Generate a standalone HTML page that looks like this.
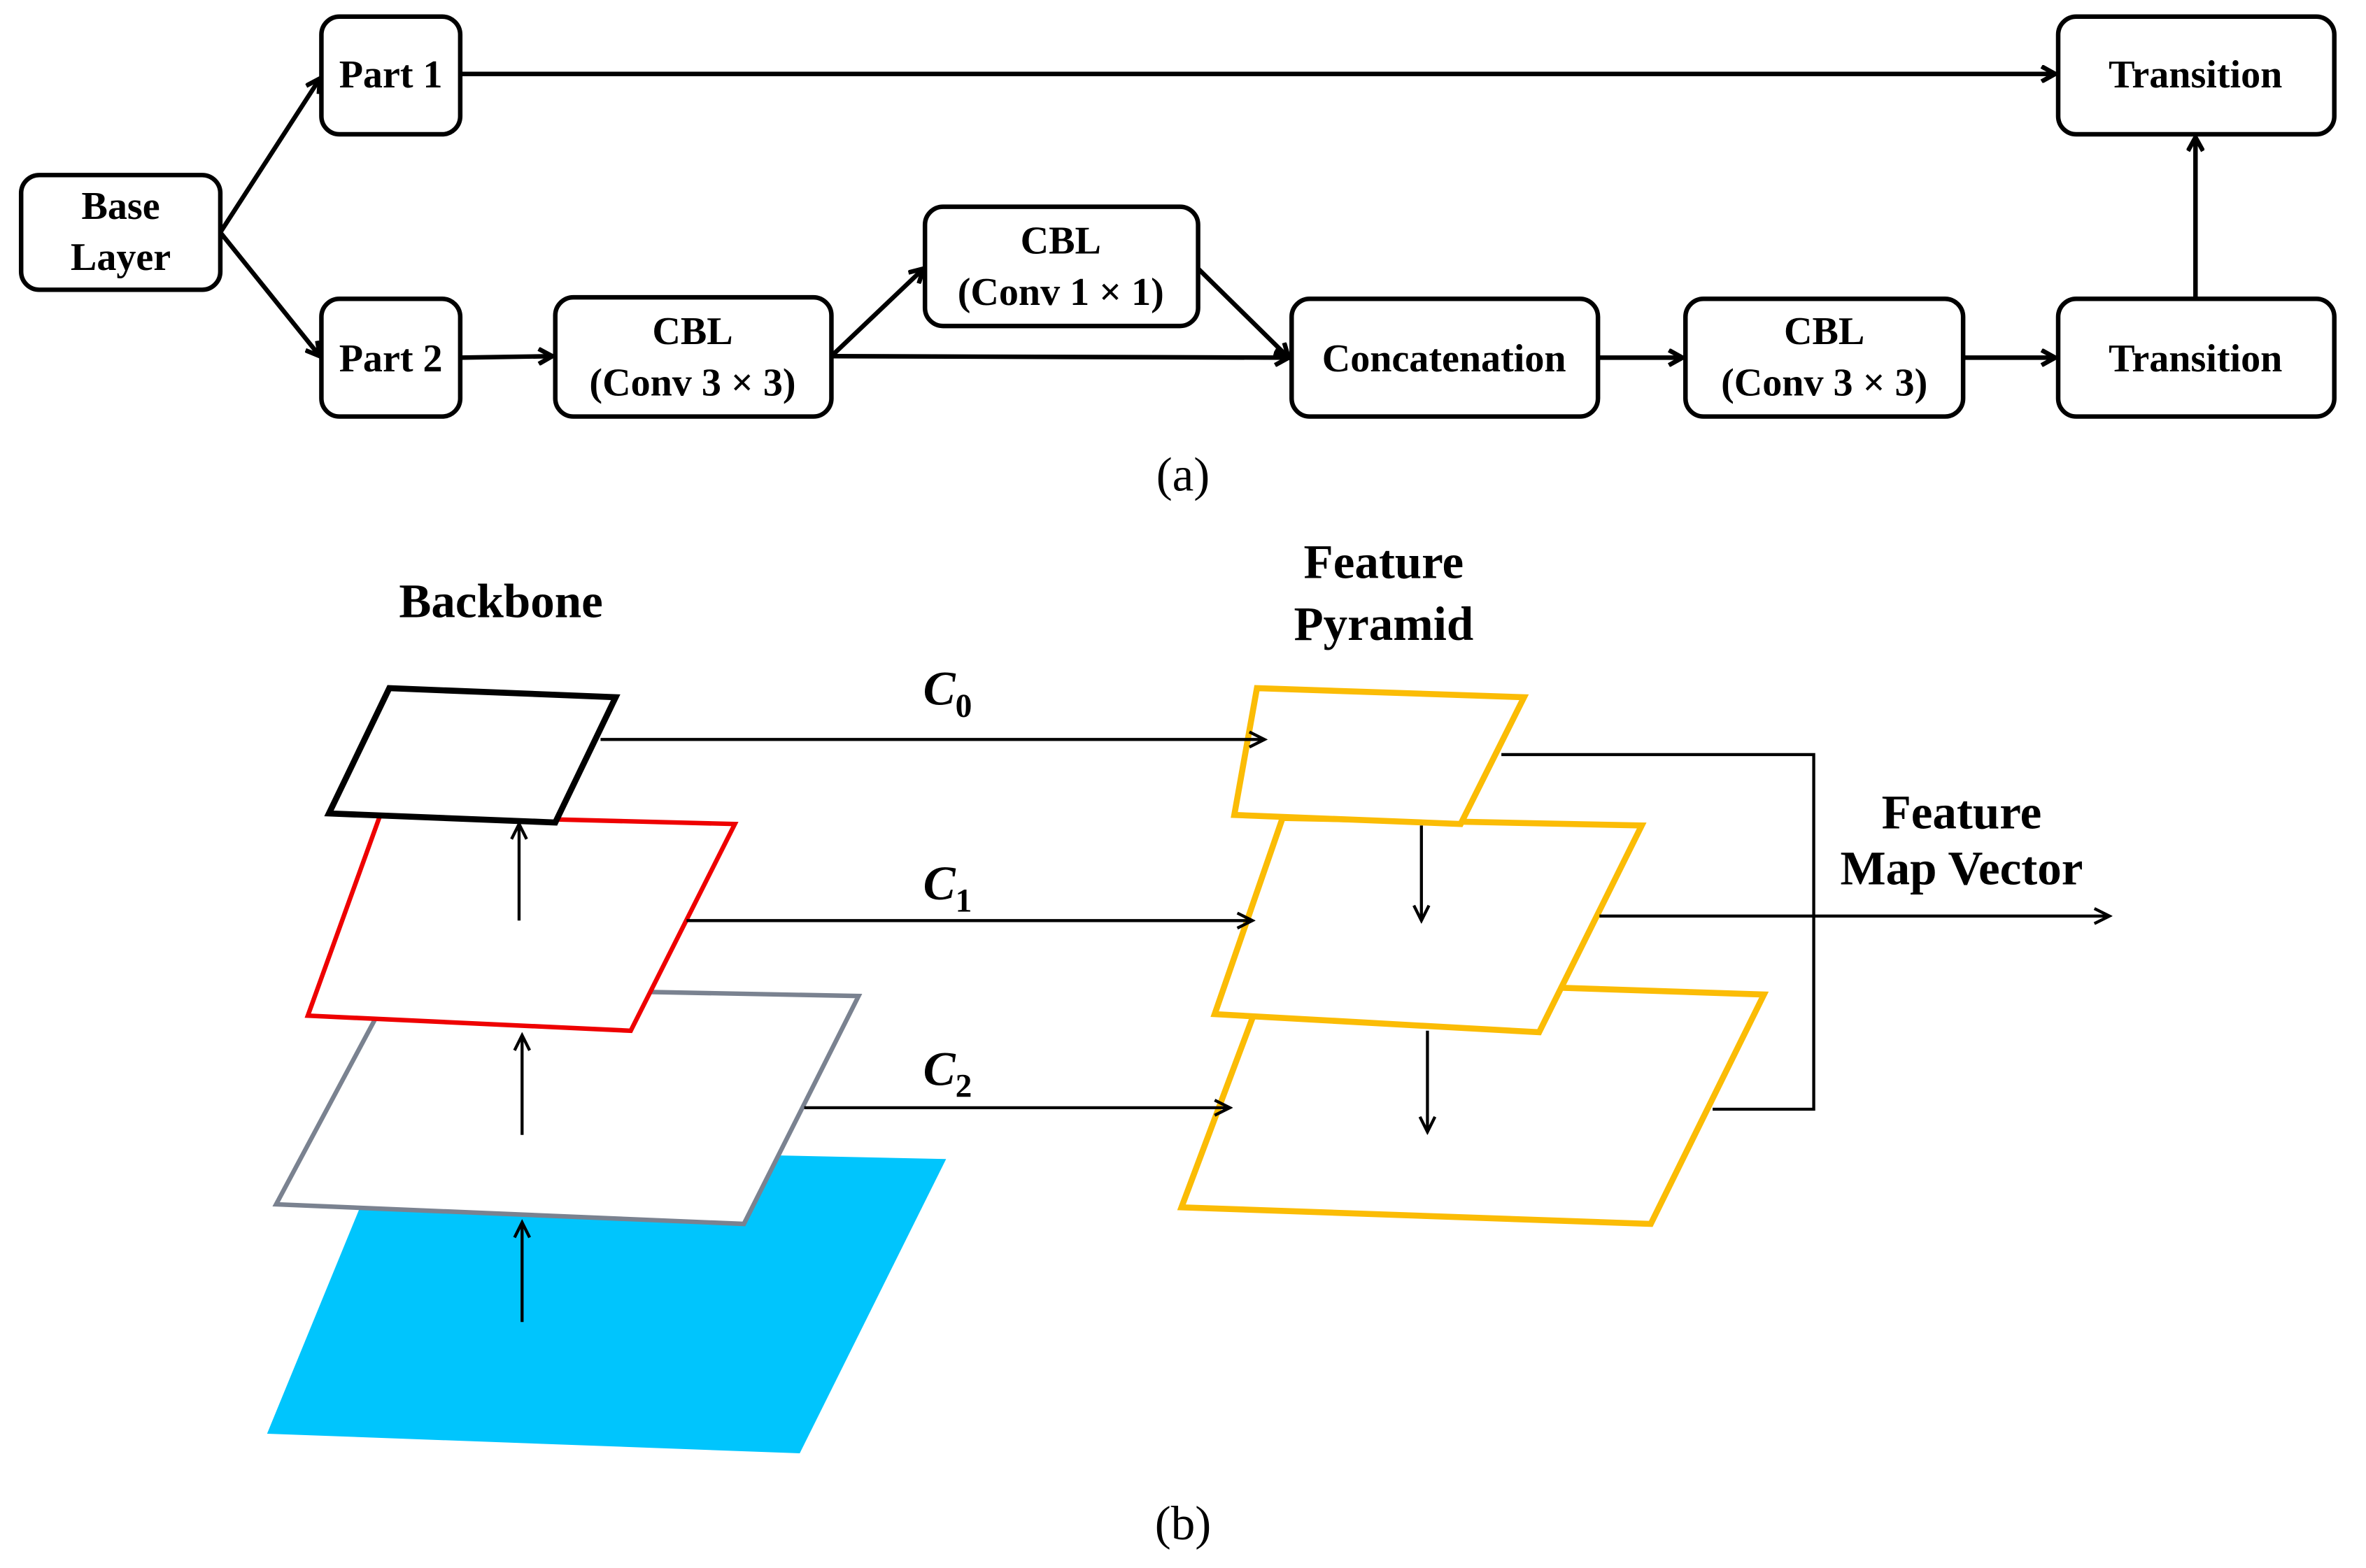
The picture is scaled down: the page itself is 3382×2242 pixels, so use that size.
<!DOCTYPE html>
<html><head><style>html,body{margin:0;padding:0;background:#fff}svg{display:block}</style></head><body>
<svg width="3382" height="2242" viewBox="0 0 1568 1039" preserveAspectRatio="none" xmlns="http://www.w3.org/2000/svg" font-family="Liberation Serif, serif">
<defs>
<marker id="a" markerWidth="12" markerHeight="12" refX="10" refY="6" orient="auto" markerUnits="userSpaceOnUse"><path d="M1,1 L10,6 L1,11" fill="none" stroke="#000" stroke-width="3"/></marker>
<marker id="b" markerWidth="14" markerHeight="12" refX="12" refY="6" orient="auto" markerUnits="userSpaceOnUse"><path d="M2,1 L12,6 L2,11" fill="none" stroke="#000" stroke-width="2"/></marker>
</defs>
<g fill="#fff" stroke="#000" stroke-width="3">
<rect x="14" y="116" width="132" height="76" rx="12"/>
<rect x="213" y="11" width="92" height="78" rx="12"/>
<rect x="213" y="198" width="92" height="78" rx="12"/>
<rect x="368" y="197" width="183" height="79" rx="12"/>
<rect x="613" y="137" width="181" height="79" rx="12"/>
<rect x="856" y="198" width="203" height="78" rx="12"/>
<rect x="1117" y="198" width="184" height="78" rx="12"/>
<rect x="1364" y="198" width="183" height="78" rx="12"/>
<rect x="1364" y="11" width="183" height="78" rx="12"/>
</g>
<g stroke="#000" stroke-width="3" fill="none" marker-end="url(#a)">
<line x1="146" y1="154" x2="212" y2="52"/>
<line x1="146" y1="154" x2="212" y2="236"/>
<line x1="305" y1="49" x2="1362" y2="49"/>
<line x1="305" y1="237" x2="366" y2="236"/>
<line x1="551" y1="236" x2="612" y2="178"/>
<line x1="551" y1="236" x2="854" y2="237"/>
<line x1="794" y1="178" x2="854" y2="237"/>
<line x1="1059" y1="237" x2="1115" y2="237"/>
<line x1="1301" y1="237" x2="1362" y2="237"/>
<line x1="1455" y1="198" x2="1455" y2="91"/>
</g>
<g font-size="26" font-weight="bold" text-anchor="middle">
<text x="80" y="145">Base</text><text x="80" y="179">Layer</text>
<text x="259" y="58">Part 1</text>
<text x="259" y="246">Part 2</text>
<text x="459" y="228">CBL</text><text x="459" y="262">(Conv 3 × 3)</text>
<text x="703" y="168">CBL</text><text x="703" y="202">(Conv 1 × 1)</text>
<text x="957" y="246">Concatenation</text>
<text x="1209" y="228">CBL</text><text x="1209" y="262">(Conv 3 × 3)</text>
<text x="1455" y="58">Transition</text>
<text x="1455" y="246">Transition</text>
</g>
<g font-size="32" text-anchor="middle">
<text x="784" y="325">(a)</text>
<text x="784" y="1020">(b)</text>
</g>
<g font-size="32" font-weight="bold" text-anchor="middle">
<text x="332" y="409">Backbone</text>
<text x="917" y="383">Feature</text><text x="917" y="424">Pyramid</text>
<text x="1300" y="549">Feature</text><text x="1300" y="586">Map Vector</text>
</g>
<polygon points="255,760 627,768 530,963 177,950" fill="#00c5fd"/>
<polygon points="260,654 569,660 493,811 183,798" fill="#fff" stroke="#7a8290" stroke-width="3"/>
<polygon points="252,540 487,546 418,683 204,673" fill="#fff" stroke="#e00" stroke-width="3"/>
<polygon points="258,456 408,462 368,545 218,539" fill="#fff" stroke="#000" stroke-width="4"/>
<polygon points="840,648 1169,659 1094,811 783,800" fill="#fff" stroke="#fbbc05" stroke-width="4"/>
<polygon points="850,542 1088,547 1020,684 805,672" fill="#fff" stroke="#fbbc05" stroke-width="4"/>
<polygon points="833,456 1010,462 968,546 818,540" fill="#fff" stroke="#fbbc05" stroke-width="4"/>
<g stroke="#000" stroke-width="2" fill="none" marker-end="url(#b)">
<line x1="344" y1="610" x2="344" y2="546"/>
<line x1="346" y1="752" x2="346" y2="686"/>
<line x1="346" y1="876" x2="346" y2="810"/>
<line x1="942" y1="547" x2="942" y2="610"/>
<line x1="946" y1="683" x2="946" y2="750"/>
<line x1="398" y1="490" x2="838" y2="490"/>
<line x1="455" y1="610" x2="830" y2="610"/>
<line x1="533" y1="734" x2="815" y2="734"/>
<line x1="1060" y1="607" x2="1398" y2="607"/>
</g>
<polyline points="995,500 1202,500 1202,735 1135,735" fill="none" stroke="#000" stroke-width="2"/>
<g font-size="32" font-weight="bold" font-style="italic" text-anchor="middle">
<text x="628" y="467">C<tspan font-size="22" dy="8" font-style="normal">0</tspan></text>
<text x="628" y="596">C<tspan font-size="22" dy="8" font-style="normal">1</tspan></text>
<text x="628" y="719">C<tspan font-size="22" dy="8" font-style="normal">2</tspan></text>
</g>
</svg>
</body></html>
